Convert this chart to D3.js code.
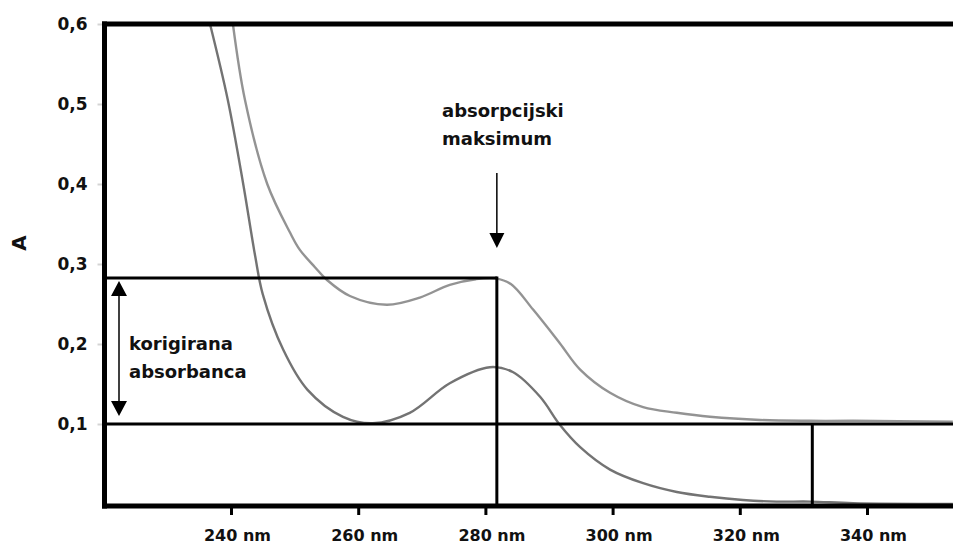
<!DOCTYPE html>
<html>
<head>
<meta charset="utf-8">
<script src="https://cdn.jsdelivr.net/npm/d3@7"></script>
<style>
body{margin:0;background:#fff;}
text{font-family:"DejaVu Sans",sans-serif;font-weight:bold;fill:#111;}
</style>
</head>
<body>
<svg id="content" width="953" height="547"></svg>
<script>
//Data--------------------------------------------------------
var upperNm=[240.3,242.2,245.7,249.3,250.8,253.2,255.1,258.7,264.5,269.7,274.4,278.5,281.5,284,287.5,291.7,294.9,299.6,304.8,310.1,315.3,323.2,331,337.8,353.5];
var upperA=[0.60,0.505,0.40,0.339,0.318,0.296,0.28,0.26,0.249,0.258,0.274,0.281,0.282,0.275,0.243,0.201,0.168,0.139,0.121,0.114,0.109,0.105,0.104,0.104,0.103];

var lowerNm=[236.7,239.5,241.9,243.8,245,248.2,252,257.6,262.3,268.1,274.4,280.7,284.3,288.6,291.7,294.9,299.6,304.8,310.1,315.3,320.5,325.8,331,337.8,353.5];
var lowerA=[0.60,0.505,0.401,0.31,0.262,0.193,0.143,0.109,0.101,0.114,0.151,0.171,0.165,0.134,0.099,0.071,0.043,0.026,0.015,0.009,0.005,0.003,0.003,0.001,0.0];

//maximum and baseline markers (nm, A)
var peakMark=[281.8,0.2825];
var baseMark=[331.4,0.1];

var xTicks=[240,260,280,300,320,340];
var yTicks=[0.1,0.2,0.3,0.4,0.5,0.6];

//Draws chart--------------------------------------------------
function drawChart(){
var svg=d3.select("#content");
var left=104.5, right=953, top=24, bottom=506;

var x=d3.scaleLinear().domain([240,340]).range([231,867]);
var y=d3.scaleLinear().domain([0,0.6]).range([504,24]);

var locale=d3.formatLocale({decimal:",",thousands:".",grouping:[3],currency:["",""]});
var fmt=locale.format(".1f");

//clip so curves stay in the frame
svg.append("clipPath").attr("id","plotclip")
	.append("rect")
	.attr("x",left).attr("y",top)
	.attr("width",right-left).attr("height",bottom-top);

//y axis ticks and labels
svg.append("g")
	.attr("transform","translate("+left+",0)")
	.call(d3.axisLeft(y).tickValues(yTicks).tickFormat(fmt).tickSize(7).tickPadding(10))
	.call(function(g){g.select(".domain").remove();})
	.call(function(g){g.selectAll(".tick line").attr("stroke","#d4d4d4").attr("stroke-width",2);})
	.call(function(g){g.selectAll("text").style("font-size","17px");});

//x axis ticks and labels
svg.append("g")
	.attr("transform","translate(0,"+bottom+")")
	.call(d3.axisBottom(x).tickValues(xTicks).tickFormat(function(d){return d+" nm";}).tickSize(9).tickPadding(15))
	.call(function(g){g.select(".domain").remove();})
	.call(function(g){g.selectAll(".tick line").attr("stroke","#000").attr("stroke-width",3);})
	.call(function(g){g.selectAll("text").style("font-size","16px").attr("dx",6);});

//spectra
var line=d3.line()
	.x(function(d){return x(d[0]);})
	.y(function(d){return y(d[1]);})
	.curve(d3.curveCatmullRom.alpha(0.5));

var curves=[
	{nm:upperNm,a:upperA,color:"#808080"},
	{nm:lowerNm,a:lowerA,color:"#5a5a5a"}
];

svg.append("g").attr("clip-path","url(#plotclip)")
	.selectAll("path")
	.data(curves)
	.enter()
	.append("path")
	.attr("d",function(c){return line(c.nm.map(function(v,i){return [v,c.a[i]];}));})
	.style("fill","none")
	.style("stroke",function(c){return c.color;})
	.style("stroke-width",2.4)
	.style("opacity",0.85);

//marker lines
var marks=svg.append("g").style("stroke","#000").style("stroke-width",3);
marks.append("line")
	.attr("x1",left).attr("x2",x(peakMark[0]))
	.attr("y1",y(peakMark[1])).attr("y2",y(peakMark[1]));
marks.append("line")
	.attr("x1",x(peakMark[0])).attr("x2",x(peakMark[0]))
	.attr("y1",y(peakMark[1])-1.5).attr("y2",bottom);
marks.append("line")
	.attr("x1",left).attr("x2",right)
	.attr("y1",y(baseMark[1])).attr("y2",y(baseMark[1]));
marks.append("line")
	.attr("x1",x(baseMark[0])).attr("x2",x(baseMark[0]))
	.attr("y1",y(baseMark[1])).attr("y2",bottom);

//frame
var frame=svg.append("g").style("stroke","#000").style("stroke-width",5);
frame.append("line").attr("x1",left).attr("x2",left).attr("y1",top-2.5).attr("y2",bottom+2.5);
frame.append("line").attr("x1",left-2.5).attr("x2",right).attr("y1",top).attr("y2",top);
frame.append("line").attr("x1",left-2.5).attr("x2",right).attr("y1",bottom).attr("y2",bottom);

//arrow to maximum
var ax=x(peakMark[0]);
svg.append("line")
	.attr("x1",ax).attr("x2",ax).attr("y1",173).attr("y2",236)
	.style("stroke","#000").style("stroke-width",1.5);
svg.append("path")
	.attr("d","M"+(ax-7.5)+",233L"+(ax+7.5)+",233L"+ax+",248Z")
	.style("fill","#000");

//double arrow for corrected absorbance
var dx=119, y1=y(peakMark[1])+3, y2=y(baseMark[1])-8;
svg.append("line")
	.attr("x1",dx).attr("x2",dx).attr("y1",y1+10).attr("y2",y2-10)
	.style("stroke","#000").style("stroke-width",1.5);
svg.append("path")
	.attr("d","M"+(dx-8)+","+(y1+15)+"L"+(dx+8)+","+(y1+15)+"L"+dx+","+y1+"Z")
	.style("fill","#000");
svg.append("path")
	.attr("d","M"+(dx-8)+","+(y2-15)+"L"+(dx+8)+","+(y2-15)+"L"+dx+","+y2+"Z")
	.style("fill","#000");

//annotation texts
var notes=[
	{t:"absorpcijski",x:442,y:117},
	{t:"maksimum",x:442,y:145},
	{t:"korigirana",x:129,y:350},
	{t:"absorbanca",x:129,y:378}
];
svg.selectAll("text.note")
	.data(notes)
	.enter()
	.append("text")
	.attr("class","note")
	.attr("x",function(d){return d.x;})
	.attr("y",function(d){return d.y;})
	.style("font-size","18px")
	.text(function(d){return d.t;});

//axis title
svg.append("text")
	.attr("transform","translate(26,243) rotate(-90)")
	.attr("text-anchor","middle")
	.style("font-size","20px")
	.text("A");
}

window.onload=drawChart;
</script>
</body>
</html>
